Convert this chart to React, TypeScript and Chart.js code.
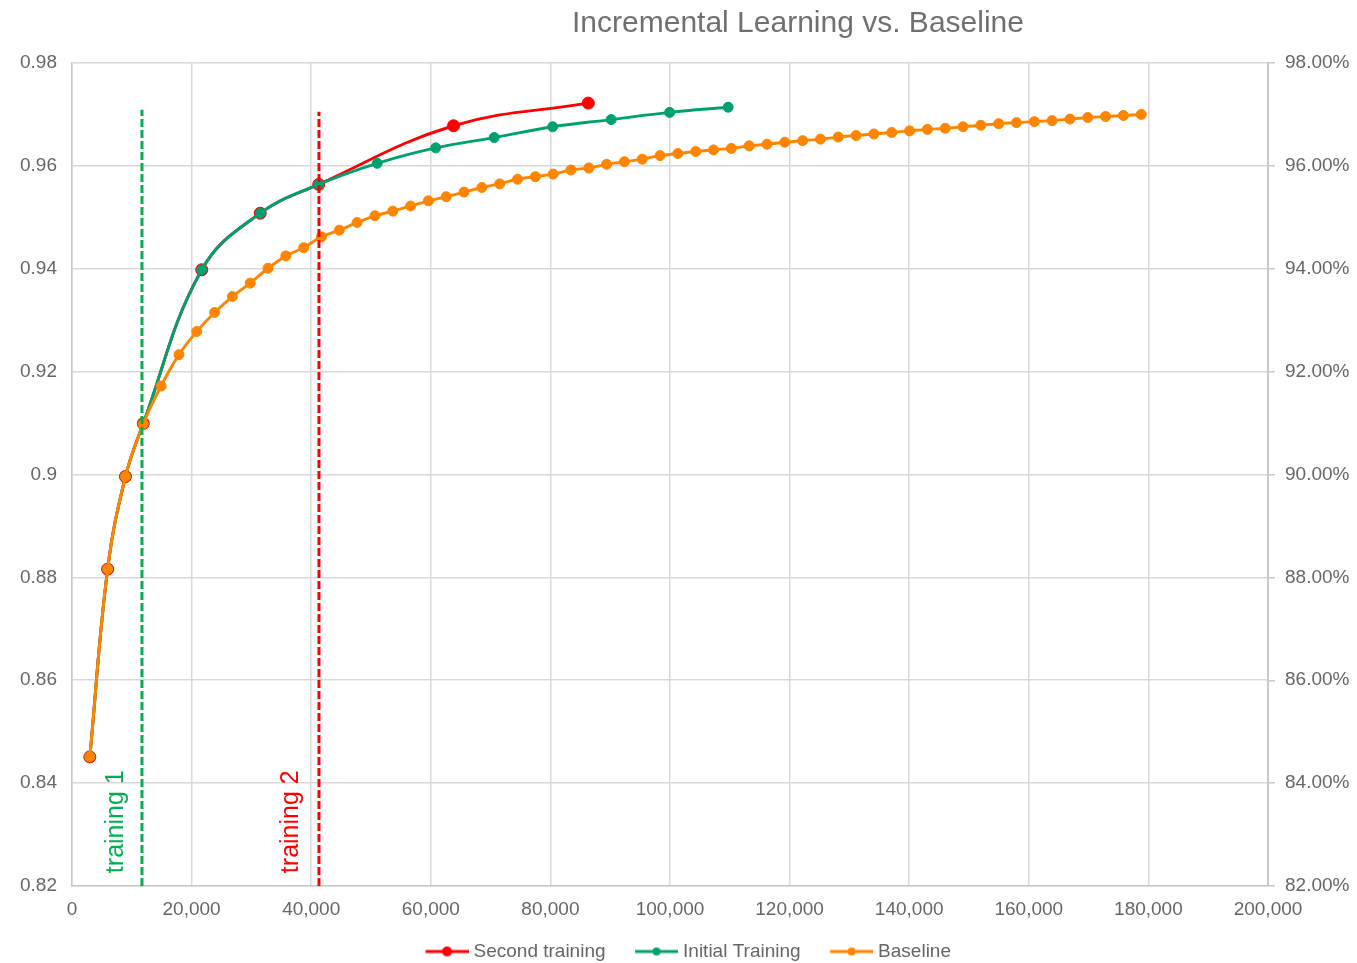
import React, { useEffect, useRef } from "react";
import { Chart, registerables } from "chart.js";

Chart.register(...registerables);

const FONT = "'Liberation Sans', Arial, Helvetica, sans-serif";

// Baseline run: evaluated every batch of ~2,980 samples
const baselineSteps = [
  2980, 5960, 8940, 11920, 14900, 17880, 20860, 23840, 26820, 29800,
  32780, 35760, 38740, 41720, 44700, 47680, 50660, 53640, 56620, 59600,
  62580, 65560, 68540, 71520, 74500, 77480, 80460, 83440, 86420, 89400,
  92380, 95360, 98340, 101320, 104300, 107280, 110260, 113240, 116220, 119200,
  122180, 125160, 128140, 131120, 134100, 137080, 140060, 143040, 146020, 149000,
  151980, 154960, 157940, 160920, 163900, 166880, 169860, 172840, 175820, 178800,
];
const baselineAcc = [
  0.8451, 0.8816, 0.8996, 0.9098, 0.9172, 0.9233, 0.9278, 0.9315, 0.9346, 0.9372,
  0.9401, 0.9425, 0.9441, 0.9462, 0.9475, 0.949, 0.9503, 0.9512, 0.9522, 0.9532,
  0.954, 0.9549, 0.9558, 0.9565, 0.9574, 0.9579, 0.9584, 0.9592, 0.9596, 0.9603,
  0.9608, 0.9613, 0.962, 0.9624, 0.9628, 0.9631, 0.9634, 0.9639, 0.9642, 0.9646,
  0.9649, 0.9652, 0.9656, 0.9659, 0.9662, 0.9665, 0.9668, 0.9671, 0.9673, 0.9676,
  0.9679, 0.9682, 0.9684, 0.9686, 0.9688, 0.9691, 0.9694, 0.9696, 0.9698, 0.97,
];

// Initial training run
const initialSteps = [2980, 5960, 8940, 11920, 21700, 31480, 41260, 51040, 60820, 70600, 80380, 90160, 99940, 109720];
const initialAcc = [0.8451, 0.8816, 0.8996, 0.9099, 0.9398, 0.9508, 0.9564, 0.9605, 0.9635, 0.9655, 0.9676, 0.969, 0.9704, 0.9714];

// Second (incremental) training run
const secondSteps = [2980, 5960, 8940, 11920, 21700, 31480, 41260, 63800, 86340];
const secondAcc = [0.8451, 0.8816, 0.8996, 0.9099, 0.9398, 0.9508, 0.9564, 0.9678, 0.9722];

// Where each training round started
const trainingNames = ["training 1", "training 2"];
const trainingStarts = [11700, 41300];
const trainingTops = [0.9709, 0.9705];
const trainingColors = ["#00B050", "#FF0000"];
const trainingLabelSteps = [8530, 37790];
const trainingLabelFloor = 0.8225;

// Axis ranges
const xMin = 0;
const xMax = 200000;
const xStep = 20000;
const yMin = 0.82;
const yMax = 0.98;
const yStep = 0.02;

const RED = "#FF0000";
const GREEN = "#00A070";
const ORANGE = "#FF8500";
const TEXT = "#666666";
const GRID = "#D9D9D9";
const AXIS = "#C9C9C9";

const toPoints = (xs: number[], ys: number[]) => xs.map((x, i) => ({ x, y: ys[i] }));

function legendSwatch(color: string, r: number): HTMLCanvasElement {
  const c = document.createElement("canvas");
  c.width = 67;
  c.height = 14;
  const g = c.getContext("2d")!;
  g.strokeStyle = color;
  g.lineWidth = 3;
  g.beginPath();
  g.moveTo(24, 7);
  g.lineTo(67, 7);
  g.stroke();
  g.fillStyle = color;
  g.beginPath();
  g.arc(45.5, 7, r, 0, Math.PI * 2);
  g.fill();
  return c;
}

const trainingLabelsPlugin = {
  id: "trainingLabels",
  afterDatasetsDraw(chart: any) {
    const { ctx, scales } = chart;
    const x = scales.x;
    const y = scales.y;
    trainingNames.forEach((name, i) => {
      const px = x.getPixelForValue(trainingLabelSteps[i]);
      const py = y.getPixelForValue(trainingLabelFloor);
      ctx.save();
      ctx.translate(px, py);
      ctx.rotate(-Math.PI / 2);
      ctx.font = `25px ${FONT}`;
      ctx.fillStyle = trainingColors[i];
      ctx.textAlign = "left";
      ctx.textBaseline = "alphabetic";
      ctx.fillText(name, 0, 0);
      ctx.restore();
    });
  },
};

export default function App() {
  const canvasRef = useRef<HTMLCanvasElement | null>(null);

  useEffect(() => {
    if (!canvasRef.current) return;
    Chart.defaults.font.family = FONT;

    const swatches = [legendSwatch(RED, 5), legendSwatch(GREEN, 4), legendSwatch(ORANGE, 4)];

    const series = (label: string, color: string, data: any[], radius: number, order: number) => ({
      label,
      data,
      borderColor: color,
      backgroundColor: color,
      pointBackgroundColor: color,
      pointBorderColor: color,
      pointBorderWidth: 1,
      pointRadius: radius,
      borderWidth: 2.9,
      tension: 0.4,
      order,
    });

    const marker = (i: number) => ({
      label: trainingNames[i],
      data: [
        { x: trainingStarts[i], y: yMin },
        { x: trainingStarts[i], y: trainingTops[i] },
      ],
      borderColor: trainingColors[i],
      borderWidth: 3,
      borderDash: [8, 3],
      pointRadius: 0,
      tension: 0,
      order: -1,
    });

    const chart = new Chart(canvasRef.current, {
      type: "line",
      data: {
        datasets: [
          series("Second training", RED, toPoints(secondSteps, secondAcc), 6, 2),
          series("Initial Training", GREEN, toPoints(initialSteps, initialAcc), 5, 1),
          series("Baseline", ORANGE, toPoints(baselineSteps, baselineAcc), 5, 0),
          marker(0),
          marker(1),
        ] as any,
      },
      options: {
        animation: false,
        responsive: false,
        events: [],
        layout: { padding: { top: 63, left: 0, right: 0, bottom: -8 } },
        plugins: {
          title: { display: false },
          tooltip: { enabled: false },
          legend: {
            position: "bottom",
            labels: {
              usePointStyle: true,
              pointStyleWidth: 58,
              padding: 10,
              color: TEXT,
              font: { size: 19 },
              generateLabels: (chart: any) => {
                const items = Chart.defaults.plugins.legend.labels.generateLabels(chart);
                return items
                  .filter((it: any) => it.datasetIndex < 3)
                  .sort((a: any, b: any) => a.datasetIndex - b.datasetIndex)
                  .map((it: any) => ({ ...it, pointStyle: swatches[it.datasetIndex], fontColor: TEXT }));
              },
            },
          },
        },
        scales: {
          x: {
            type: "linear",
            min: xMin,
            max: xMax,
            afterFit: (s: any) => {
              s.height = 46;
            },
            ticks: {
              stepSize: xStep,
              color: TEXT,
              font: { size: 19 },
              padding: 12,
              maxRotation: 0,
              callback: (v: any) => Number(v).toLocaleString("en-US"),
            },
            grid: { color: GRID, lineWidth: 1.5, drawTicks: false },
            border: { color: AXIS, width: 1.5 },
          },
          y: {
            type: "linear",
            position: "left",
            min: yMin,
            max: yMax,
            afterFit: (s: any) => {
              s.width = 72;
            },
            ticks: {
              stepSize: yStep,
              color: TEXT,
              font: { size: 19 },
              padding: 15,
              callback: (v: any) => Number(v).toFixed(2).replace(/0$/, ""),
            },
            grid: { color: GRID, lineWidth: 1.5, drawTicks: false },
            border: { color: AXIS, width: 1.5 },
          },
          y2: {
            type: "linear",
            position: "right",
            min: yMin * 100,
            max: yMax * 100,
            afterFit: (s: any) => {
              s.width = 89;
            },
            ticks: {
              stepSize: yStep * 100,
              color: TEXT,
              font: { size: 19 },
              padding: 10,
              callback: (v: any) => `${Number(v).toFixed(2)}%`,
            },
            grid: {
              drawOnChartArea: false,
              drawTicks: true,
              tickLength: 7,
              color: AXIS,
              lineWidth: 1.5,
            },
            border: { color: AXIS, width: 2 },
          },
        },
      } as any,
      plugins: [trainingLabelsPlugin],
    });

    return () => chart.destroy();
  }, []);

  return (
    <div style={{ position: "absolute", left: 0, top: 0, width: 1357, height: 963, background: "#fff" }}>
      <canvas ref={canvasRef} width={1357} height={963} style={{ display: "block" }} />
      <div
        style={{
          position: "absolute",
          top: 7,
          left: 0,
          width: 1357,
          boxSizing: "border-box",
          paddingLeft: 239,
          textAlign: "center",
          fontFamily: FONT,
          fontSize: 30,
          lineHeight: "30px",
          color: "#707070",
          whiteSpace: "nowrap",
        }}
      >
        Incremental Learning vs. Baseline
      </div>
    </div>
  );
}
